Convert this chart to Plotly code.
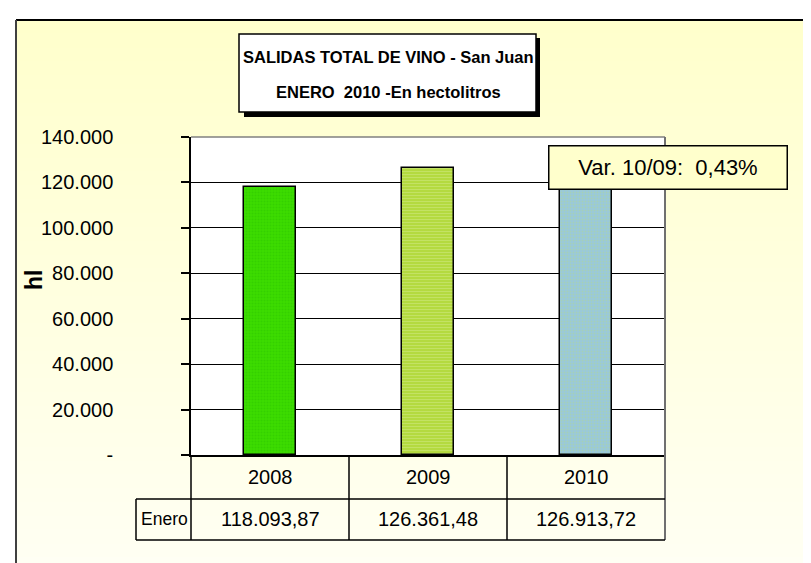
import plotly.graph_objects as go

# ---- data ----
categories = ["2008", "2009", "2010"]
enero_values = [118093.87, 126361.48, 126913.72]
row_label = "Enero"
tick_values = [0, 20000, 40000, 60000, 80000, 100000, 120000, 140000]
tick_labels = ["-", "20.000", "40.000", "60.000", "80.000", "100.000", "120.000", "140.000"]
title_lines = ["SALIDAS TOTAL DE VINO - San Juan", "ENERO\u00a0 2010 -En hectolitros"]
variation_label = "Var. 10/09:\u00a0 0,43%"
y_title = "hl"

bar_colors = ["#3CDC00", "#B4DA40", "#98C8DC"]
pattern_shapes = [".", "-", "."]
pattern_fg = ["#2CC400", "#D2EA88", "#B4D890"]

W, H = 811, 563
L, R, T, B = 183, 154, 129, 116
PW, PH = W - L - R, H - T - B
FONT = "Liberation Sans, Arial, sans-serif"


def px_x(px):
    return (px - L) / PW


def px_y(py):
    return (H - B - py) / PH


def fmt_es(v):
    s = f"{v:,.2f}"
    return s.replace(",", "#").replace(".", ",").replace("#", ".")


fig = go.Figure()
for i, cat in enumerate(categories):
    fig.add_trace(go.Bar(
        x=[i], y=[enero_values[i]], width=0.33,
        marker=dict(color=bar_colors[i],
                    line=dict(color="black", width=1.5),
                    pattern=dict(shape=pattern_shapes[i], fgcolor=pattern_fg[i],
                                 size=3, solidity=0.35)),
        showlegend=False, hoverinfo="skip"))

shapes = []
# gradient background inside frame
n = 40
y0p, y1p = 12, 563
for k in range(n):
    t = k / (n - 1)
    g = int(204 + (244 - 204) * t)
    ya = y0p + (y1p - y0p) * k / n
    yb = y0p + (y1p - y0p) * (k + 1) / n + 1
    shapes.append(dict(type="rect", xref="paper", yref="paper",
                       x0=px_x(8), x1=px_x(W + 5), y0=px_y(ya), y1=px_y(yb),
                       fillcolor=f"rgb(255,255,{g})", line=dict(width=0), layer="below"))
# white plot area
shapes.append(dict(type="rect", xref="paper", yref="paper", x0=0, x1=1, y0=0, y1=1,
                   fillcolor="white", line=dict(width=0), layer="below"))
# frame
shapes.append(dict(type="line", xref="paper", yref="paper", x0=px_x(8), x1=px_x(W + 5),
                   y0=px_y(12), y1=px_y(12), line=dict(color="black", width=2)))
shapes.append(dict(type="line", xref="paper", yref="paper", x0=px_x(8), x1=px_x(8),
                   y0=px_y(12), y1=px_y(H + 5), line=dict(color="#404040", width=2)))
# plot border top
shapes.append(dict(type="line", xref="paper", yref="paper", x0=0, x1=1, y0=1, y1=1,
                   line=dict(color="#808080", width=1.5)))
# table geometry (paper coordinates)
row1_bottom = px_y(491)
row2_bottom = px_y(532)
left_cell = px_x(128)
for k in range(3):
    xb = k / 3
    shapes.append(dict(type="line", xref="paper", yref="paper", x0=xb, x1=xb, y0=0, y1=row2_bottom,
                       line=dict(color="black", width=1.5)))
shapes.append(dict(type="line", xref="paper", yref="paper", x0=1, x1=1, y0=1, y1=row2_bottom,
                   line=dict(color="#707070", width=2)))
shapes.append(dict(type="line", xref="paper", yref="paper", x0=left_cell, x1=left_cell,
                   y0=row1_bottom, y1=row2_bottom, line=dict(color="black", width=1.5)))
for yb in [row1_bottom, row2_bottom]:
    shapes.append(dict(type="line", xref="paper", yref="paper", x0=left_cell, x1=1, y0=yb, y1=yb,
                       line=dict(color="black", width=1.5)))
# title box with shadow
shapes.append(dict(type="rect", xref="paper", yref="paper", x0=px_x(236), x1=px_x(532),
                   y0=px_y(109), y1=px_y(30), fillcolor="black", line=dict(width=0)))
shapes.append(dict(type="rect", xref="paper", yref="paper", x0=px_x(231), x1=px_x(528),
                   y0=px_y(104), y1=px_y(26), fillcolor="white", line=dict(color="black", width=1.5)))

annotations = []
for i, cat in enumerate(categories):
    annotations.append(dict(x=i, xref="x", y=px_y(469), yref="paper", text=cat,
                            xanchor="center", yanchor="middle",
                            showarrow=False, font=dict(family=FONT, size=20, color="black")))
    annotations.append(dict(x=i, xref="x", y=px_y(511), yref="paper", text=fmt_es(enero_values[i]),
                            xanchor="center", yanchor="middle",
                            showarrow=False, font=dict(family=FONT, size=20, color="black")))
annotations.append(dict(x=px_x(131), xref="paper", xanchor="left", y=px_y(511),
                        yanchor="middle", yref="paper", text=row_label, showarrow=False,
                        font=dict(family=FONT, size=17.5, color="black")))
annotations.append(dict(x=px_x(26), y=px_y(272), xref="paper", yref="paper", text=f"<b>{y_title}</b>",
                        xanchor="center", yanchor="middle",
                        textangle=-90, showarrow=False, font=dict(family=FONT, size=23, color="black")))
for line, yc in zip(title_lines, [49, 84]):
    annotations.append(dict(x=px_x(380), y=px_y(yc), xref="paper", yref="paper",
                            xanchor="center", yanchor="middle", text=f"<b>{line}</b>",
                            showarrow=False, font=dict(family=FONT, size=16.5, color="black")))
annotations.append(dict(x=px_x(660), y=px_y(159.5), xref="paper", yref="paper",
                        xanchor="center", yanchor="middle",
                        text=variation_label, showarrow=False, width=237, height=42,
                        bgcolor="#FFFFCC", bordercolor="black", borderwidth=1.5, borderpad=0,
                        font=dict(family=FONT, size=22, color="black")))

fig.update_layout(
    width=W, height=H, margin=dict(l=L, r=R, t=T, b=B, pad=0),
    paper_bgcolor="white", plot_bgcolor="white",
    shapes=shapes, annotations=annotations, bargap=0,
    xaxis=dict(range=[-0.5, 2.5], showticklabels=False, ticks="", showgrid=False,
               zeroline=False, showline=True, linecolor="black", linewidth=1.5, fixedrange=True),
    yaxis=dict(range=[0, 140000], tickvals=tick_values, ticktext=tick_labels,
               ticks="outside", ticklen=8, tickcolor="black", tickwidth=1.5,
               ticklabelstandoff=64,
               showgrid=True, gridcolor="black", gridwidth=1, zeroline=False,
               showline=True, linecolor="black", linewidth=1.5,
               tickfont=dict(family=FONT, size=20, color="black")),
)
fig.write_html("out.html")
